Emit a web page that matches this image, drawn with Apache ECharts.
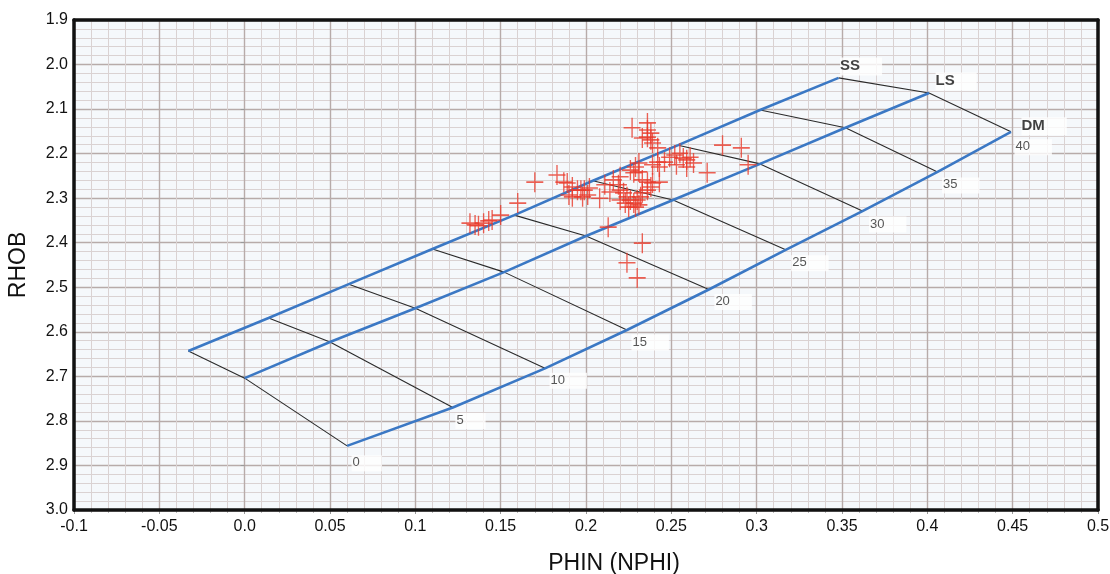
<!DOCTYPE html>
<html><head><meta charset="utf-8">
<script src="https://cdn.jsdelivr.net/npm/echarts@6/dist/echarts.min.js"></script>
<style>html,body{margin:0;padding:0;background:#fff}#c{width:1110px;height:574px}</style>
</head><body><div id="c"></div>
<script>
// Porosity (%) labels along the chart lines
const porosityLabels = ['0','5','10','15','20','25','30','35','40'];
// Sandstone line
const ssNphi = [-0.033, 0.014, 0.061, 0.110, 0.158, 0.204, 0.254, 0.302, 0.348];
const ssRhob = [2.643, 2.569, 2.493, 2.414, 2.338, 2.261, 2.181, 2.102, 2.030];
// Limestone line
const lsNphi = [0.000, 0.050, 0.100, 0.152, 0.200, 0.251, 0.302, 0.352, 0.401];
const lsRhob = [2.704, 2.623, 2.547, 2.466, 2.385, 2.304, 2.223, 2.142, 2.064];
// Dolomite line
const dmNphi = [0.060, 0.122, 0.176, 0.224, 0.272, 0.317, 0.362, 0.406, 0.449];
const dmRhob = [2.856, 2.770, 2.682, 2.596, 2.505, 2.416, 2.329, 2.241, 2.151];
const lithoNames = ['SS', 'LS', 'DM'];
// Sample points
const sampleNphi = [0.132,0.135,0.137,0.140,0.143,0.145,0.150,0.160,0.170,0.183,0.187,0.189,0.192,0.195,0.197,0.199,0.202,0.190,0.192,0.198,0.201,
  0.216,0.219,0.220,0.222,0.224,0.226,0.228,0.230,0.232,0.233,0.236,0.220,0.223,0.225,0.229,0.231,0.228,0.231,0.233,0.236,0.238,0.239,0.243,
  0.220,0.226,0.229,0.231,0.239,0.242,0.213,0.233,0.224,0.230,0.227,0.236,0.236,0.238,0.236,0.238,0.239,0.233,0.242,0.249,0.252,0.255,0.257,
  0.259,0.261,0.263,0.246,0.243,0.271,0.280,0.291,0.295,0.253,0.259,0.211,0.214,0.208];
const sampleRhob = [2.356,2.360,2.362,2.356,2.351,2.349,2.338,2.311,2.264,2.248,2.264,2.266,2.275,2.282,2.282,2.282,2.277,2.293,2.297,2.297,2.293,
  2.259,2.270,2.282,2.288,2.297,2.304,2.311,2.304,2.297,2.288,2.282,2.304,2.311,2.320,2.320,2.315,2.243,2.241,2.259,2.264,2.275,2.266,2.264,
  2.252,2.237,2.230,2.221,2.225,2.219,2.365,2.401,2.445,2.479,2.142,2.131,2.147,2.154,2.163,2.169,2.176,2.165,2.187,2.208,2.203,2.199,2.210,
  2.214,2.208,2.221,2.219,2.230,2.243,2.181,2.187,2.225,2.225,2.230,2.270,2.286,2.300];

const blue = '#3b78c4';
const font = 'Liberation Sans, Arial, sans-serif';
const lithoLines = [[ssNphi, ssRhob], [lsNphi, lsRhob], [dmNphi, dmRhob]];
const series = [];
// iso-porosity lines
porosityLabels.forEach((p, i) => {
  series.push({
    type: 'line', silent: true, symbol: 'none', z: 3,
    lineStyle: { color: '#2a2a2a', width: 1.1 },
    data: lithoLines.map(l => [l[0][i], l[1][i]])
  });
});
// lithology lines
lithoLines.forEach((l, k) => {
  series.push({
    type: 'line', silent: true, symbol: 'none', z: 4,
    lineStyle: { color: blue, width: 2.6 },
    data: l[0].map((x, i) => [x, l[1][i]])
  });
});
// porosity labels along dolomite line
const poroOffsets = [[5, 10], [3, 6], [5, 5], [5, 5], [6, 5], [6, 6], [7, 6], [5, 6], [4, 8]];
series.push({
  type: 'scatter', silent: true, symbolSize: 1, z: 5,
  itemStyle: { color: 'rgba(0,0,0,0)' },
  data: dmNphi.map((x, i) => ({
    value: [x, dmRhob[i]],
    label: { show: true, position: poroOffsets[i], align: 'left', verticalAlign: 'top',
      formatter: porosityLabels[i], fontSize: 13, color: '#2a2a2a',
      fontFamily: font, backgroundColor: '#fff', padding: [1, 22, 2, 1] }
  }))
});
// lithology names
const lithoOffsets = [[2, -20], [7, -20], [11, -14]];
series.push({
  type: 'scatter', silent: true, symbolSize: 1, z: 5,
  itemStyle: { color: 'rgba(0,0,0,0)' },
  data: lithoLines.map((l, k) => ({
    value: [l[0][l[0].length - 1], l[1][l[1].length - 1]],
    label: { show: true, position: lithoOffsets[k], align: 'left', verticalAlign: 'top',
      formatter: lithoNames[k], fontSize: 15, fontWeight: 'bold', color: '#111',
      fontFamily: font, backgroundColor: '#fff', padding: [1, 22, 2, 0] }
  }))
});
// samples
series.push({
  type: 'scatter', z: 6,
  symbol: 'path://M9.2,0h1.6v20h-1.6zM0,9.2h20v1.6h-20z',
  symbolSize: [17, 20],
  itemStyle: { color: '#e8392b' },
  data: sampleNphi.map((x, i) => [x, sampleRhob[i]])
});

const frameLine = { show: true, onZero: false, lineStyle: { color: '#111', width: 3.5 } };
const chart = echarts.init(document.getElementById('c'));
chart.setOption({
  animation: false,
  grid: { left: 74, right: 12, top: 20, bottom: 64, show: true, outerBoundsMode: 'none', containLabel: false,
    backgroundColor: '#f5f8fb', borderWidth: 0 },
  xAxis: [{
    type: 'value', min: -0.1, max: 0.5, interval: 0.05,
    name: 'PHIN (NPHI)', nameLocation: 'middle', nameGap: 42,
    nameTextStyle: { fontSize: 23, color: '#111', fontFamily: font, padding: [0, 0, 0, 56] },
    axisLine: { show: false },
    axisTick: { show: true, length: 4, lineStyle: { color: '#999' } },
    minorTick: { show: true, splitNumber: 5, length: 3, lineStyle: { color: '#bbb' } },
    splitLine: { show: true, lineStyle: { color: '#b7aba9', width: 1.4 } },
    minorSplitLine: { show: true, lineStyle: { color: '#dad2d2', width: 1 } },
    axisLabel: { fontSize: 16, color: '#111', margin: 9, fontFamily: font,
      formatter: v => Math.abs(v) < 1e-9 ? '0.0' : String(+v.toFixed(2)) }
  }, {
    type: 'value', position: 'top', min: -0.1, max: 0.5, z: 10,
    axisLine: frameLine, axisTick: { show: false }, axisLabel: { show: false }, splitLine: { show: false }
  }, {
    type: 'value', position: 'bottom', min: -0.1, max: 0.5, z: 10,
    axisLine: frameLine, axisTick: { show: false }, axisLabel: { show: false }, splitLine: { show: false }
  }],
  yAxis: [{
    type: 'value', inverse: true, min: 1.9, max: 3.0, interval: 0.1,
    name: 'RHOB', nameLocation: 'middle', nameGap: 44,
    nameTextStyle: { fontSize: 23, color: '#111', fontFamily: font },
    axisLine: { show: false },
    axisTick: { show: true, length: 4, lineStyle: { color: '#999' } },
    minorTick: { show: false, splitNumber: 5 },
    splitLine: { show: true, lineStyle: { color: '#b7aba9', width: 1.4 } },
    minorSplitLine: { show: true, lineStyle: { color: '#dad2d2', width: 1 } },
    axisLabel: { fontSize: 16, color: '#111', margin: 6, fontFamily: font,
      formatter: v => v.toFixed(1) }
  }, {
    type: 'value', position: 'right', inverse: true, min: 1.9, max: 3.0, z: 10,
    axisLine: frameLine, axisTick: { show: false }, axisLabel: { show: false }, splitLine: { show: false }
  }, {
    type: 'value', position: 'left', inverse: true, min: 1.9, max: 3.0, z: 10,
    axisLine: frameLine, axisTick: { show: false }, axisLabel: { show: false }, splitLine: { show: false }
  }],
  series: series
});
</script>
</body></html>
